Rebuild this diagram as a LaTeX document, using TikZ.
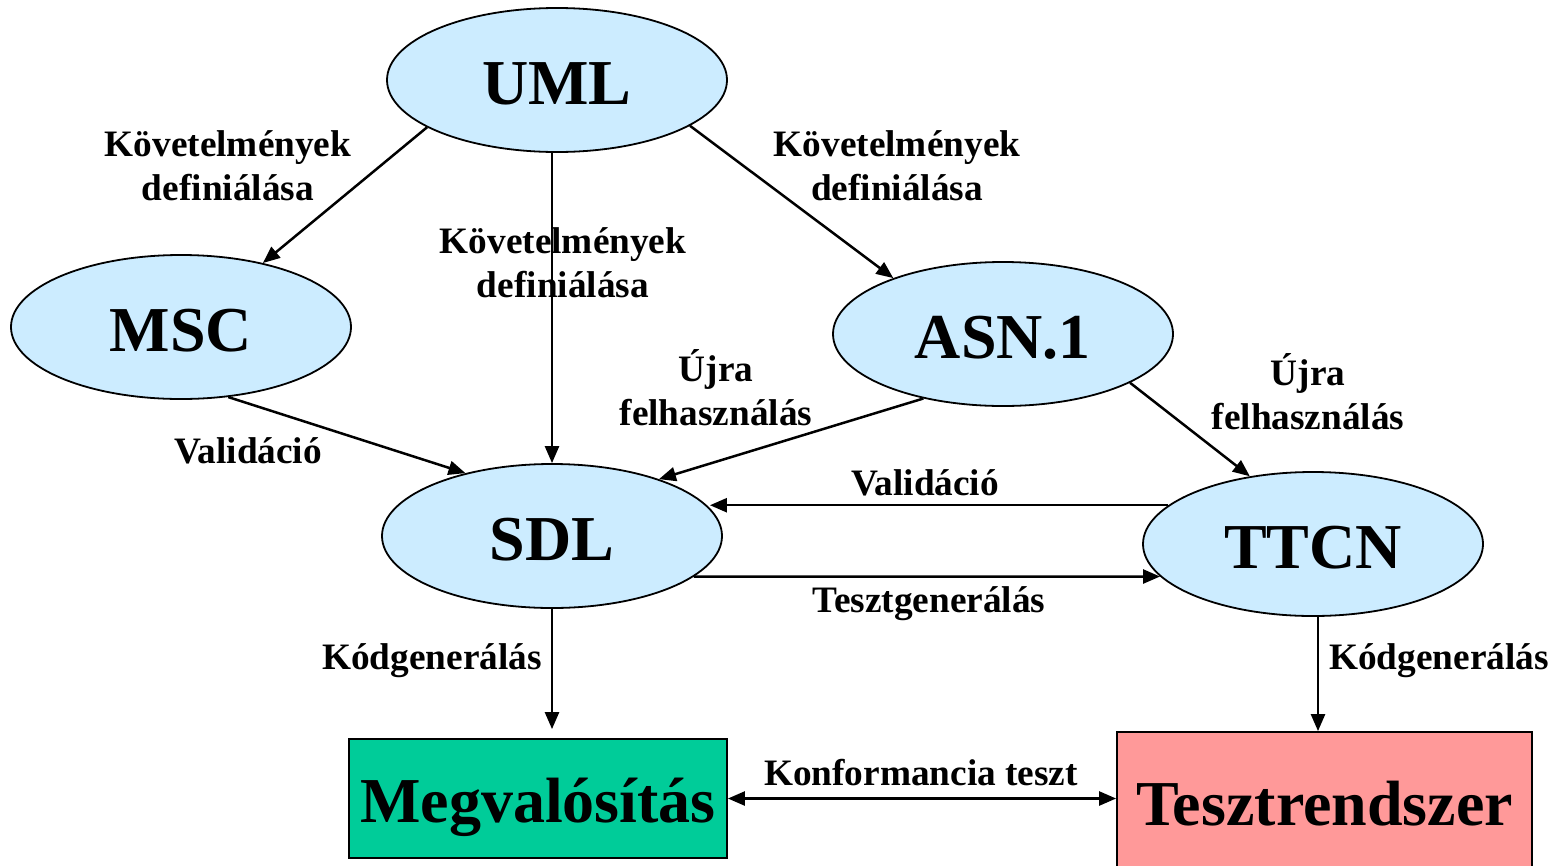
\documentclass[tikz,border=0pt]{standalone}
\usepackage{fontspec}
\setmainfont{Liberation Serif}
\usetikzlibrary{arrows.meta,shapes.geometric}
\definecolor{bubble}{HTML}{CCECFF}
\definecolor{implgreen}{HTML}{00CC99}
\definecolor{testpink}{HTML}{FF9999}
\begin{document}
\begin{tikzpicture}[x=1pt,y=-1pt,
  lang/.style={ellipse, draw=black, line width=1.8pt, fill=bubble,
    minimum width=340pt, minimum height=144pt, inner sep=0pt,
    text height=48pt, text depth=0pt,
    font=\fontsize{64}{72}\selectfont\bfseries},
  sysbox/.style={rectangle, draw=black, line width=1.8pt, inner sep=0pt,
    text height=48pt, text depth=0pt,
    font=\fontsize{64}{72}\selectfont\bfseries},
  lbl/.style={align=center, inner sep=0pt, font=\fontsize{37.3}{44}\selectfont\bfseries},
  flow/.style={line width=2.5pt, -{Triangle[length=17pt,width=14pt]}},
  both/.style={line width=2.5pt, {Triangle[length=17pt,width=14pt]}-{Triangle[length=17pt,width=14pt]}}
]
\clip (0,0) rectangle (1554,865);
\useasboundingbox (0,0) rectangle (1554,865);

% language nodes
\node[lang] (UML)  at (557,80)   {UML};
\node[lang] (MSC)  at (181,327)  {MSC};
\node[lang] (ASN)  at (1003,334) {ASN.1};
\node[lang] (SDL)  at (552,536)  {SDL};
\node[lang] (TTCN) at (1313,544) {TTCN};

% result boxes
\node[sysbox, fill=implgreen, minimum width=378pt, minimum height=119pt] (IMPL) at (538,798.5) {Megvalósítás};
\node[sysbox, fill=testpink, minimum width=415pt, minimum height=138pt] (TEST) at (1324.5,801) {Tesztrendszer};

% connectors
\draw[flow] (UML.200.7) -- (MSC.38);
\draw[flow] (SDL.north |- UML.south) -- (SDL.north);
\draw[flow] (UML.-19.5) -- (ASN.153);
\draw[flow] (MSC.-56) -- (SDL.144.6);
\draw[flow] (ASN.219.2) -- (SDL.28.4);
\draw[flow] (ASN.-21.8) -- (TTCN.133.6);
\draw[flow] (TTCN.165.8) -- (TTCN.165.8 -| SDL.10.56);
\draw[flow] (SDL.-16.9) -- (TTCN.192.8);
\draw[flow, shorten >=9pt] (SDL.south) -- (SDL.south |- IMPL.north);
\draw[flow] ([xshift=5pt]TTCN.south) -- ([xshift=5pt]TTCN.south |- TEST.north);
\draw[both] (IMPL.east) -- (IMPL.east -| TEST.west);

% connector labels
\node[lbl] (req1) at (228,166) {Követelmények\\definiálása};
\node[lbl] (req2) at (563,263) {Követelmények\\definiálása};
\node[lbl] (req3) at (897,166) {Követelmények\\definiálása};
\node[lbl] (reuse1) at (716,388) {Újra\\felhasználás};
\node[lbl] (reuse2) at (1308,392) {Újra\\felhasználás};
\node[lbl] (val1) at (248,451) {Validáció};
\node[lbl] (val2) at (925,483) {Validáció};
\node[lbl] (tgen) at (929,604) {Tesztgenerálás};
\node[lbl] (cgen1) at (432,661) {Kódgenerálás};
\node[lbl] (cgen2) at (1439,661) {Kódgenerálás};
\node[lbl] (conf) at (921,773) {Konformancia teszt};
\end{tikzpicture}
\end{document}
